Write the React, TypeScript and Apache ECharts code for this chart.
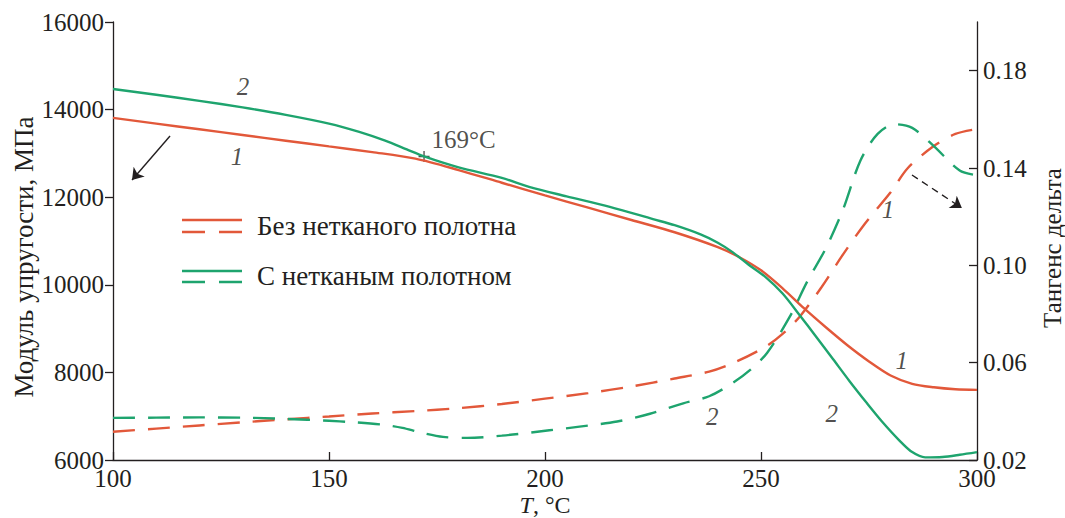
import React, { useEffect, useRef } from "react";
import * as echarts from "echarts";

// ---- data ----
const xTicks = [100, 150, 200, 250, 300];
const leftTicks = [6000, 8000, 10000, 12000, 14000, 16000];
const rightTicks = [0.02, 0.06, 0.1, 0.14, 0.18];

// Storage modulus, MPa (series 1: without nonwoven; series 2: with nonwoven)
const modulus1T = [100, 110, 120, 130, 140, 150, 160, 170, 180, 190, 200, 210, 220, 230, 240, 245, 250, 255, 260, 265, 270, 275, 280, 285, 290, 295, 300];
const modulus1V = [13810, 13680, 13550, 13420, 13290, 13160, 13030, 12880, 12620, 12330, 12040, 11760, 11480, 11200, 10860, 10630, 10330, 9920, 9460, 9030, 8620, 8250, 7930, 7740, 7660, 7615, 7600];

const modulus2T = [100, 110, 120, 130, 140, 150, 157, 163, 168, 172, 180, 190, 196.5, 205, 215, 225, 230, 236, 240, 243.5, 247, 251, 255, 259, 262.5, 266.7, 270.5, 274.5, 278, 282, 285, 288, 292, 296, 300];
const modulus2V = [14470, 14340, 14200, 14050, 13880, 13680, 13490, 13290, 13090, 12930, 12680, 12440, 12230, 12020, 11780, 11500, 11360, 11150, 10960, 10740, 10470, 10180, 9800, 9300, 8850, 8300, 7800, 7300, 6880, 6450, 6180, 6060, 6070, 6120, 6180];

// Tangent delta
const tan1T = [100, 110, 120, 130, 140, 150, 160, 170, 180, 190, 200, 210, 220, 230, 238, 244, 251, 255, 259, 264, 269, 274, 280, 284, 290, 295, 300];
const tan1V = [0.0316, 0.0329, 0.0342, 0.0355, 0.0367, 0.0379, 0.0391, 0.0401, 0.0413, 0.0430, 0.0452, 0.0475, 0.0502, 0.0535, 0.0563, 0.0602, 0.0665, 0.0718, 0.0790, 0.0910, 0.1045, 0.1170, 0.1300, 0.1400, 0.1490, 0.1540, 0.1560];

const tan2T = [100, 110, 120, 130, 140, 150, 155, 162.5, 167, 171, 176.4, 182, 190, 201, 208, 216.7, 224.3, 232, 238, 243.5, 247.5, 251.4, 256.7, 260.6, 265, 269, 273, 277, 281, 285, 290, 296, 300];
const tan2V = [0.0373, 0.0374, 0.0375, 0.0374, 0.0369, 0.0361, 0.0356, 0.0345, 0.0332, 0.0314, 0.0295, 0.0291, 0.0300, 0.0322, 0.0337, 0.0358, 0.0390, 0.0433, 0.0462, 0.0517, 0.0570, 0.0640, 0.0790, 0.0930, 0.1070, 0.1230, 0.1430, 0.1540, 0.1580, 0.1565, 0.1490, 0.1390, 0.1370];

// Curve number labels [T, modulus, text]
const curveLabels: [number, number, string][] = [
  [130.1, 14516, "2"],
  [128.7, 12918, "1"],
  [279.4, 11708, "1"],
  [282.6, 8283, "1"],
  [266.4, 7073, "2"],
  [238.7, 6982, "2"],
];

// Transition point marker
const transitionPoint: [number, number] = [172, 12930];
const transitionText = "169°C";

// Arrows [[T0, v0], [T1, v1]]
const arrowSolid: [number, number][] = [[113.2, 13397], [104.4, 12393]];
const arrowDashed: [number, number][] = [[284.95, 12507], [296.5, 11753]];

const legendNames = ["Без нетканого полотна", "С нетканым полотном"];
const leftTitle = "Модуль упругости, МПа";
const rightTitle = "Тангенс дельта";

const RED = "#e2583a";
const GREEN = "#1ea46e";
const INK = "#231f20";
const FONT = "'Liberation Serif', 'Times New Roman', serif";

const zip = (t: number[], v: number[]) => t.map((x, i) => [x, v[i]]);

export default function App() {
  const ref = useRef<HTMLDivElement>(null);
  useEffect(() => {
    const chart = echarts.init(ref.current!, null, { renderer: "svg" });
    const lineW = 2.4;
    const dash = [22, 13];
    chart.setOption({
      animation: false,
      backgroundColor: "#ffffff",
      textStyle: { fontFamily: FONT, color: INK },
      grid: { left: 113, right: 88, top: 22, bottom: 58, containLabel: false, outerBoundsMode: "none" },
      xAxis: {
        type: "value",
        min: 100,
        max: 300,
        interval: 50,
        axisLine: { show: true, lineStyle: { color: INK, width: 1.3 } },
        axisTick: { inside: true, length: 8, lineStyle: { color: INK, width: 1.3 } },
        axisLabel: { fontSize: 25, color: INK, fontFamily: FONT, margin: 6, customValues: xTicks },
        splitLine: { show: false },
        name: "{i|T}{n|, °C}",
        nameLocation: "middle",
        nameGap: 33,
        nameMoveOverlap: false,
        nameTextStyle: {
          rich: {
            i: { fontStyle: "italic", fontSize: 24, lineHeight: 24, fontFamily: FONT, color: INK },
            n: { fontSize: 24, lineHeight: 24, fontFamily: FONT, color: INK },
          },
        },
      },
      yAxis: [
        {
          type: "value",
          min: 6000,
          max: 16000,
          interval: 2000,
          axisLine: { show: true, lineStyle: { color: INK, width: 1.3 } },
          axisTick: { inside: false, length: 8, lineStyle: { color: INK, width: 1.3 } },
          axisLabel: { fontSize: 25, color: INK, fontFamily: FONT, margin: 9, formatter: (v: number) => String(v), customValues: leftTicks },
          splitLine: { show: false },
        },
        {
          type: "value",
          position: "right",
          min: 0.02,
          max: 0.2,
          axisLine: { show: true, lineStyle: { color: INK, width: 1.3 } },
          axisTick: { inside: true, length: 8, lineStyle: { color: INK, width: 1.3 }, customValues: rightTicks },
          axisLabel: { fontSize: 25, color: INK, fontFamily: FONT, margin: 6, formatter: (v: number) => v.toFixed(2), customValues: rightTicks },
          splitLine: { show: false },
        },
      ],
      series: [
        {
          type: "line", name: "tan1", yAxisIndex: 1, data: zip(tan1T, tan1V), smooth: 0.3, showSymbol: false,
          lineStyle: { color: RED, width: lineW, type: dash }, silent: true,
        },
        {
          type: "line", name: "tan2", yAxisIndex: 1, data: zip(tan2T, tan2V), smooth: 0.3, showSymbol: false,
          lineStyle: { color: GREEN, width: lineW, type: dash }, silent: true,
        },
        {
          type: "line", name: "E1", data: zip(modulus1T, modulus1V), smooth: 0.3, showSymbol: false,
          lineStyle: { color: RED, width: lineW }, silent: true,
        },
        {
          type: "line", name: "E2", data: zip(modulus2T, modulus2V), smooth: 0.3, showSymbol: false,
          lineStyle: { color: GREEN, width: lineW }, silent: true,
        },
        {
          type: "scatter", name: "numbers", silent: true, symbolSize: 1,
          itemStyle: { color: "rgba(0,0,0,0)" },
          data: curveLabels.map(([t, v, s]) => ({ value: [t, v], name: s })),
          label: {
            show: true, position: "inside", formatter: (p: any) => p.name,
            fontStyle: "italic", fontSize: 25, fontFamily: FONT, color: INK,
          },
        },
        {
          type: "scatter", name: "transition", silent: true, symbolSize: 11,
          symbol: "path://M4.4,0h1.2v10h-1.2zM0,4.4h10v1.2h-10z",
          itemStyle: { color: INK },
          data: [{ value: transitionPoint, name: transitionText }],
          label: {
            show: true, position: "right", offset: [-3, -17], formatter: (p: any) => p.name,
            fontSize: 25, fontFamily: FONT, color: INK,
          },
        },
        {
          type: "lines", coordinateSystem: "cartesian2d", silent: true,
          symbol: ["none", "arrow"], symbolSize: 11,
          lineStyle: { color: INK, width: 1.4, type: "solid", opacity: 1 },
          data: [{ coords: arrowSolid }],
        },
        {
          type: "lines", coordinateSystem: "cartesian2d", silent: true,
          symbol: ["none", "arrow"], symbolSize: 11,
          lineStyle: { color: INK, width: 1.4, type: [7, 5], opacity: 1 },
          data: [{ coords: arrowDashed }],
        },
      ],
      graphic: [
        { type: "line", shape: { x1: 182, y1: 220, x2: 242, y2: 220 }, style: { stroke: RED, lineWidth: 2.4 } },
        { type: "line", shape: { x1: 182, y1: 232, x2: 242, y2: 232 }, style: { stroke: RED, lineWidth: 2.4, lineDash: [23, 14] } },
        { type: "text", x: 257, y: 226, style: { text: legendNames[0], fontSize: 27, fontFamily: FONT, fill: INK, verticalAlign: "middle" } },
        { type: "line", shape: { x1: 182, y1: 271, x2: 242, y2: 271 }, style: { stroke: GREEN, lineWidth: 2.4 } },
        { type: "line", shape: { x1: 182, y1: 282, x2: 242, y2: 282 }, style: { stroke: GREEN, lineWidth: 2.4, lineDash: [23, 14] } },
        { type: "text", x: 257, y: 276, style: { text: legendNames[1], fontSize: 27, fontFamily: FONT, fill: INK, verticalAlign: "middle" } },
        {
          type: "text", x: 24, y: 257, rotation: Math.PI / 2,
          style: { text: leftTitle, fontSize: 27, fontFamily: FONT, fill: INK, align: "center", verticalAlign: "middle" },
        },
        {
          type: "text", x: 1052, y: 248, rotation: Math.PI / 2,
          style: { text: rightTitle, fontSize: 25, fontFamily: FONT, fill: INK, align: "center", verticalAlign: "middle" },
        },
      ],
    });
    return () => chart.dispose();
  }, []);
  return <div ref={ref} style={{ position: "absolute", left: 0, top: 0, width: 1065, height: 518 }} />;
}
